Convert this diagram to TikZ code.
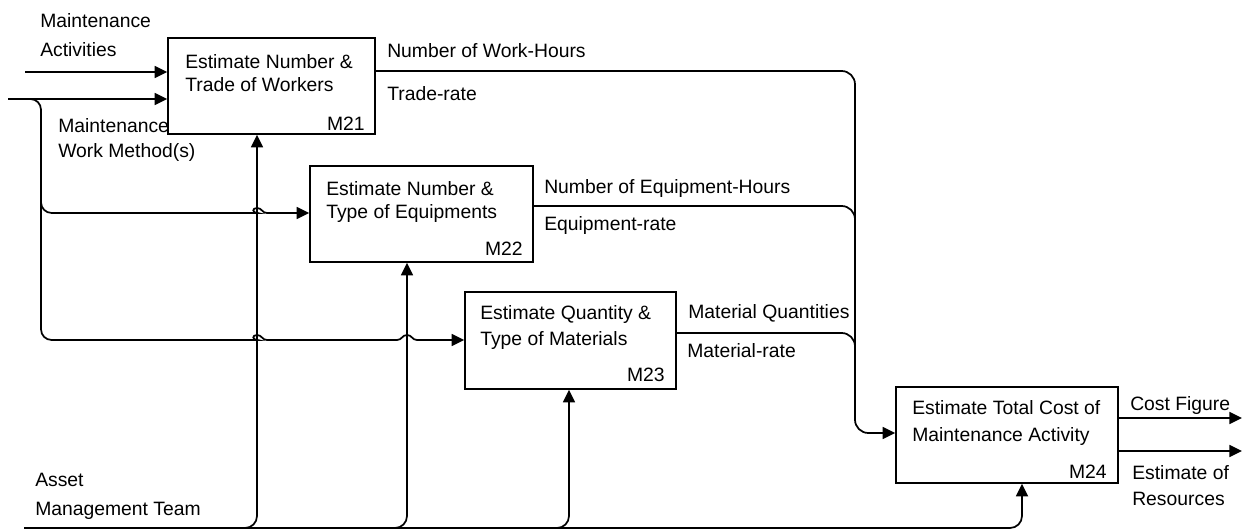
\documentclass[tikz,border=0pt]{standalone}
\usepackage{fontspec}
\setmainfont{Liberation Sans}
\usetikzlibrary{arrows.meta}

\begin{document}
\begin{tikzpicture}[x=0.75pt,y=-0.75pt,
  font=\fontsize{14.5}{17}\selectfont,
  procbox/.style={draw, line width=1.1pt, inner sep=0pt, minimum height=72pt},
  txt/.style={anchor=base west, inner sep=0pt},
  mlab/.style={anchor=base east, inner sep=0pt},
  ln/.style={line width=1.3pt},
  arr/.style={line width=1.3pt, -{Triangle[length=9.5pt,width=9pt]}},
  bus/.style={line width=2pt},
]
\useasboundingbox (0,0) rectangle (1253,531);

% activity boxes
\node[procbox, minimum width=155.25pt] (m21) at (271.5,86) {};
\node[procbox, minimum width=167.25pt] (m22) at (421.5,214) {};
\node[procbox, minimum width=158.25pt, minimum height=72.75pt] (m23) at (570.5,340.5) {};
\node[procbox, minimum width=166.5pt] (m24) at (1007,435) {};

% box titles
\node[txt] (m21a) at (185,68.5) {Estimate Number \&};
\node[txt] (m21b) at (185,91.5) {Trade of Workers};
\node[mlab] (m21n) at (365,131) {M21};
\node[txt] (m22a) at (326,195.5) {Estimate Number \&};
\node[txt] (m22b) at (326,218.5) {Type of Equipments};
\node[mlab] (m22n) at (523,255.5) {M22};
\node[txt] (m23a) at (480,319.5) {Estimate Quantity \&};
\node[txt] (m23b) at (480,345.5) {Type of Materials};
\node[mlab] (m23n) at (665,381.5) {M23};
\node[txt] (m24a) at (912,414.5) {Estimate Total Cost of};
\node[txt] (m24b) at (912,441.5) {Maintenance Activity};
\node[mlab] (m24n) at (1107,478.5) {M24};

% arrow labels
\node[txt] (lma1) at (40,28) {Maintenance};
\node[txt] (lma2) at (40,57) {Activities};
\node[txt] (lwm1) at (58,133) {Maintenance};
\node[txt] (lwm2) at (58,158) {Work Method(s)};
\node[txt] (lwh) at (387,58) {Number of Work-Hours};
\node[txt] (ltr) at (387,101) {Trade-rate};
\node[txt] (leh) at (544,193.5) {Number of Equipment-Hours};
\node[txt] (ler) at (544,230.5) {Equipment-rate};
\node[txt] (lmq) at (688,318.5) {Material Quantities};
\node[txt] (lmr) at (687,357.5) {Material-rate};
\node[txt] (lcf) at (1130,410.5) {Cost Figure};
\node[txt] (les1) at (1132,479.5) {Estimate of};
\node[txt] (les2) at (1132,505.5) {Resources};
\node[txt] (lam1) at (35,486.5) {Asset};
\node[txt] (lam2) at (35,515.5) {Management Team};

% free ends
\coordinate (ma) at (25,72);
\coordinate (mwm) at (8,99);
\coordinate (amt) at (24,528);
\coordinate (cf) at (1242,418);
\coordinate (er) at (1242,451);

% inputs to M21
\draw[arr] (ma) -- (m21.west |- ma);
\draw[arr] (mwm) -- (m21.west |- mwm);

% work method fed to M22 and M23, jumping over the control lines
\draw[arr] (41,180) [rounded corners=8pt] |- (247,213) [sharp corners]
  .. controls (252,213) and (252,208) .. (257,208)
  .. controls (262,208) and (262,213) .. (267,213)
  -- (m22.west |- 0,213);
\draw[arr] (mwm) [rounded corners=8pt] -| (41,340) -- (247,340) [sharp corners]
  .. controls (252,340) and (252,335) .. (257,335)
  .. controls (262,335) and (262,340) .. (267,340)
  -- (397,340)
  .. controls (402,340) and (402,335) .. (407,335)
  .. controls (412,335) and (412,340) .. (417,340)
  -- (m23.west |- 0,340);

% outputs collected into M24
\draw[arr, rounded corners=10pt] (m21.east |- 0,71) -| (855,433) -- (m24.west |- 0,433);
\draw[ln, rounded corners=10pt] (m22.east |- 0,206) -| (855,260);
\draw[ln, rounded corners=10pt] (m23.east |- 0,333) -| (855,380);

% final outputs
\draw[arr] (m24.east |- cf) -- (cf);
\draw[arr] (m24.east |- er) -- (er);

% asset management team controls
\draw[bus] (amt) -- (1008,528);
\draw[arr, rounded corners=9pt] (230,528) -| (257,0 |- m21.south);
\draw[arr, rounded corners=9pt] (380,528) -| (407,0 |- m22.south);
\draw[arr, rounded corners=9pt] (540,528) -| (569,0 |- m23.south);
\draw[arr, rounded corners=9pt] (990,528) -| (1022,0 |- m24.south);
\end{tikzpicture}
\end{document}
